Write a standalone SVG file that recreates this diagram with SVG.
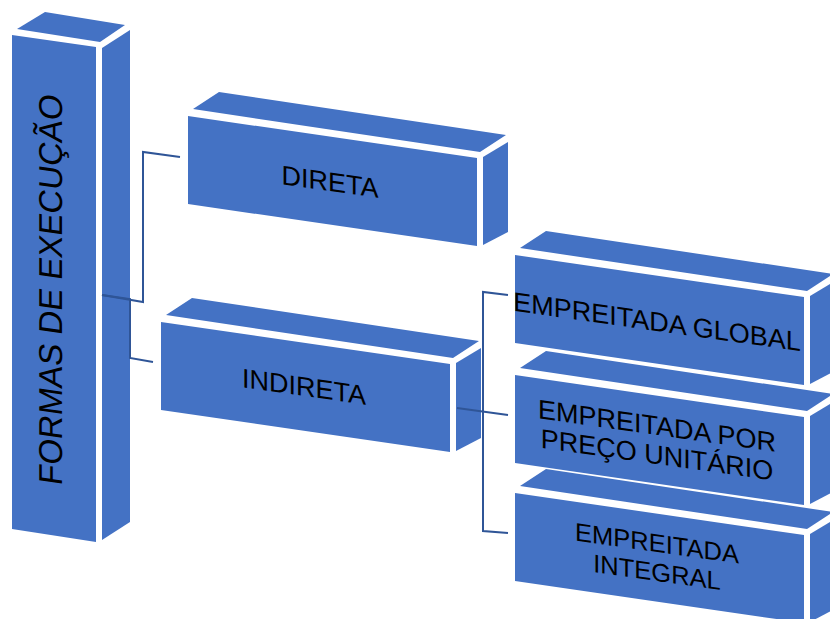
<svg xmlns="http://www.w3.org/2000/svg" xmlns:xlink="http://www.w3.org/1999/xlink" width="830" height="619" viewBox="0 0 830 619">
  <style>
    .face { fill: #4472C4; }
    .lbl { font-family: "Liberation Sans", Arial, sans-serif; font-size: 27px; fill: #000; text-anchor: middle; }
    .conn { fill: none; stroke: #2F5597; stroke-width: 2; stroke-linejoin: miter; }
  </style>
  <defs>
    <g id="box">
      <polygon class="face" points="0,0 289,42 289,130 0,88"/>
      <polygon class="face" points="5,-7 31,-24 318,19 292,36"/>
      <polygon class="face" points="295,41 320,26 320,116 295,129"/>
    </g>
  </defs>
  <rect width="830" height="619" fill="#fff"/>

  <g id="node-formas">
    <polygon class="face" points="12,35 96,47 96,542 12,529"/>
    <polygon class="face" points="17,29 45,12 125,25 100,42"/>
    <polygon class="face" points="102,48 130,30 130,522 102,540"/>
    <text class="lbl" style="font-size:33px" transform="translate(62,291) skewY(8.1) rotate(-90)">FORMAS DE EXECUÇÃO</text>
  </g>

  <g id="node-direta">
    <use xlink:href="#box" href="#box" transform="translate(188,116)"/>
    <text class="lbl" transform="translate(330,191) skewY(8)">DIRETA</text>
  </g>

  <g id="node-indireta">
    <use xlink:href="#box" href="#box" transform="translate(161,322)"/>
    <text class="lbl" transform="translate(304,396) skewY(8)">INDIRETA</text>
  </g>

  <g id="node-global">
    <use xlink:href="#box" href="#box" transform="translate(515,255)"/>
    <text class="lbl" transform="translate(657,331) skewY(8)">EMPREITADA GLOBAL</text>
  </g>

  <g id="node-preco">
    <use xlink:href="#box" href="#box" transform="translate(515,375)"/>
    <text class="lbl" transform="translate(657,435) skewY(8)"><tspan x="0" y="0">EMPREITADA POR</tspan><tspan x="0" y="29">PREÇO UNITÁRIO</tspan></text>
  </g>

  <g id="node-integral">
    <use xlink:href="#box" href="#box" transform="translate(515,493)"/>
    <text class="lbl" style="font-size:25.5px" transform="translate(657,552) skewY(8)"><tspan x="0" y="0">EMPREITADA</tspan><tspan x="0" y="29">INTEGRAL</tspan></text>
  </g>

  <g id="connectors">
    <polyline class="conn" points="102,295 143,302 143,152 180,157"/>
    <polyline class="conn" points="102,295 130,299 130,358 153,362"/>
    <polyline class="conn" points="508,295 483,292 483,531 508,533"/>
    <polyline class="conn" points="457,408 508,415"/>
  </g>
</svg>
